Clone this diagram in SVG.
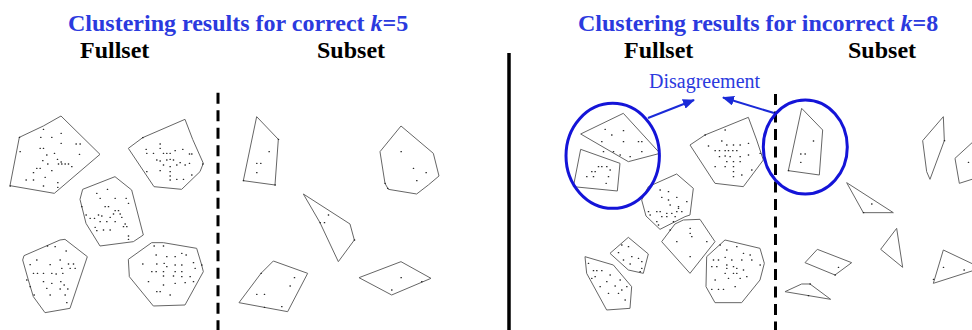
<svg xmlns="http://www.w3.org/2000/svg" width="972" height="330" viewBox="0 0 972 330">
<style>
.bg{fill:#fff}
.t{font-family:"Liberation Serif","Times New Roman",serif;font-weight:bold;font-size:24px}
.blue{fill:#2b3ade}
.blk{fill:#000}
.lbl{font-family:"Liberation Serif","Times New Roman",serif;font-size:20px;fill:#2b3ade}
.c{fill:none;stroke:#666;stroke-width:1;vector-effect:non-scaling-stroke;stroke-linejoin:round}
.d{fill:none;stroke:#222;stroke-width:4;stroke-linecap:round}
.dash{stroke:#000;stroke-width:3;stroke-dasharray:11 6.5}
.sep{stroke:#000;stroke-width:3.5}
.ring{fill:none;stroke:#1414d8;stroke-width:3}
.arr{stroke:#1a2ad8;stroke-width:2;fill:none}
</style>
<defs>
<marker id="ah" markerWidth="12" markerHeight="10" refX="11" refY="5" orient="auto" markerUnits="userSpaceOnUse">
<path d="M0 0 L12 5 L0 10 Z" fill="#1a2ad8"/>
</marker>
</defs>
<rect class="bg" x="0" y="0" width="972" height="330"/>

<g id="titles">
<text class="t blue" x="68" y="31">Clustering results for correct <tspan font-style="italic">k</tspan>=5</text>
<text class="t blue" x="578" y="31">Clustering results for incorrect <tspan font-style="italic">k</tspan>=8</text>
<text class="t blk" x="80" y="58">Fullset</text>
<text class="t blk" x="317" y="58">Subset</text>
<text class="t blk" x="624" y="58">Fullset</text>
<text class="t blk" x="848" y="58">Subset</text>
<text class="lbl" x="649" y="88">Disagreement</text>
</g>

<g id="dividers">
<line class="dash" x1="218" y1="92.7" x2="218" y2="330"/>
<line class="sep" x1="509" y1="53" x2="509" y2="330"/>
<line class="dash" x1="775.5" y1="94" x2="775.5" y2="330"/>
</g>

<g id="left-fullset" transform="translate(0,100) scale(0.33333)">
<polygon class="c" points="58,112 130,78 183,48 300,163 163,280 30,257"/>
<polygon class="c" points="385,145 428,113 555,58 578,118 610,190 600,215 545,268 462,260"/>
<polygon class="c" points="248,268 345,230 395,270 430,405 400,425 300,438 258,370 240,298"/>
<polygon class="c" points="72,467 180,420 195,418 262,470 210,625 135,638 100,590 85,540 68,480"/>
<polygon class="c" points="385,478 455,428 490,428 590,445 605,495 610,515 555,615 460,618 388,530"/>
<path class="d" d="M130 88h1M155 112h1M183 100h1M122 112h1M183 130h1M228 132h1M240 132h1M120 145h1M130 145h1M163 160h1M238 163h1M140 165h1M128 182h1M172 178h1M183 186h1M195 192h1M205 192h1M175 192h1M185 192h1M143 192h1M110 205h1M120 205h1M155 212h1M100 218h1M78 240h1M100 240h1M135 232h1M130 258h1M173 248h1M173 262h1M215 200h1M60 155h1M30 258h1M58 112h1"/>
<path class="d" d="M438 148h1M480 132h1M480 145h1M440 160h1M460 160h1M490 160h1M500 160h1M510 160h1M525 152h1M548 148h1M568 162h1M575 162h1M470 180h1M480 183h1M500 180h1M510 178h1M520 180h1M540 188h1M568 190h1M490 195h1M510 200h1M530 195h1M555 195h1M440 215h1M480 212h1M510 215h1M510 228h1M510 240h1M530 238h1M550 238h1M575 225h1M608 192h1M428 113h1"/>
<path class="d" d="M290 280h1M322 268h1M300 295h1M345 295h1M378 295h1M385 310h1M315 320h1M325 320h1M345 332h1M355 332h1M340 342h1M360 342h1M295 345h1M270 355h1M283 355h1M305 348h1M330 352h1M365 352h1M300 365h1M320 365h1M345 365h1M375 372h1M380 380h1M285 382h1M290 392h1M310 390h1M330 390h1M370 380h1M385 408h1M385 418h1M258 345h1M245 320h1"/>
<path class="d" d="M142 438h1M165 440h1M198 453h1M110 480h1M180 480h1M90 494h1M150 494h1M205 492h1M220 492h1M100 520h1M112 520h1M130 520h1M155 520h1M185 505h1M210 505h1M225 505h1M168 522h1M188 520h1M130 545h1M155 550h1M182 545h1M192 555h1M140 565h1M180 567h1M203 567h1M150 585h1M195 585h1M200 608h1M80 540h1M90 560h1M102 585h1"/>
<path class="d" d="M462 438h1M490 438h1M545 460h1M468 465h1M500 470h1M525 470h1M558 465h1M428 492h1M470 492h1M492 490h1M500 500h1M525 495h1M545 495h1M580 488h1M455 515h1M468 515h1M490 515h1M525 515h1M545 515h1M490 528h1M520 528h1M545 530h1M570 530h1M585 505h1M445 545h1M490 555h1M525 550h1M555 548h1M580 545h1M470 575h1M480 575h1M510 585h1M605 495h1"/>
</g>

<g id="left-subset" transform="translate(215,100) scale(0.33333)">
<polygon class="c" points="125,50 190,118 180,255 85,242"/>
<polygon class="c" points="558,78 655,160 672,228 640,255 605,282 520,268 510,250 495,155"/>
<polygon class="c" points="265,282 405,372 418,420 370,485 315,368"/>
<polygon class="c" points="175,483 278,520 218,635 72,608 138,520"/>
<polygon class="c" points="432,533 558,485 648,535 530,585"/>
<path class="d" d="M162 155h1M125 190h1M137 190h1M125 218h1M85 242h1M180 255h1M190 118h1M558 155h1M595 205h1M633 218h1M605 242h1M518 265h1M510 250h1M340 345h1M328 368h1M315 368h1M418 420h1M238 533h1M225 558h1M125 583h1M148 583h1M200 620h1M148 622h1M138 520h1M558 533h1M530 570h1M620 545h1"/>
</g>

<g id="right-fullset" transform="translate(560,60) scale(0.33333)">
<polygon class="c" points="62,222 190,160 300,280 205,305"/>
<polygon class="c" points="62,268 180,310 172,393 40,380"/>
<polygon class="c" points="390,255 435,225 565,172 590,240 610,300 550,380 465,370"/>
<polygon class="c" points="265,380 350,342 400,385 390,465 375,470 300,508 258,468 245,420"/>
<polygon class="c" points="305,545 345,492 370,480 420,478 465,545 390,640"/>
<polygon class="c" points="440,590 495,540 600,565 613,610 600,660 545,728 465,728 438,680"/>
<polygon class="c" points="150,580 205,532 265,582 250,640 205,630"/>
<polygon class="c" points="75,590 160,615 215,680 210,745 140,750 80,640"/>
<path class="d" d="M135 208h1M155 225h1M190 212h1M125 245h1M190 245h1M235 245h1M245 245h1M130 275h1M160 275h1M210 290h1M245 275h1M180 285h1M115 320h1M125 320h1M140 320h1M95 335h1M105 335h1M150 330h1M100 350h1M145 350h1M80 350h1M138 370h1"/>
<path class="d" d="M435 225h1M495 210h1M485 243h1M445 258h1M500 255h1M520 255h1M540 255h1M565 250h1M465 272h1M478 272h1M495 272h1M505 272h1M518 272h1M530 272h1M478 290h1M495 288h1M510 290h1M540 290h1M565 285h1M500 305h1M520 305h1M540 305h1M465 320h1M495 320h1M520 320h1M520 335h1M520 350h1M545 345h1M575 330h1M600 280h1"/>
<path class="d" d="M300 390h1M325 395h1M305 412h1M325 420h1M350 412h1M330 435h1M355 440h1M380 425h1M290 455h1M300 455h1M320 460h1M335 460h1M350 455h1M365 455h1M270 465h1M305 470h1M320 470h1M345 470h1M290 485h1M295 495h1M340 485h1M265 455h1M355 445h1"/>
<path class="d" d="M390 505h1M390 520h1M395 530h1M350 545h1M330 510h1M390 590h1M440 545h1"/>
<path class="d" d="M480 555h1M500 570h1M530 560h1M550 580h1M570 585h1M460 600h1M475 600h1M495 592h1M515 600h1M545 600h1M575 600h1M455 620h1M470 620h1M500 615h1M500 625h1M520 620h1M530 625h1M495 640h1M520 640h1M530 640h1M550 630h1M465 660h1M505 655h1M540 655h1M455 688h1M475 688h1M490 688h1M525 680h1M560 650h1M600 615h1"/>
<path class="d" d="M185 555h1M205 560h1M175 578h1M215 590h1M235 595h1M190 600h1M245 605h1M210 612h1M240 635h1M245 625h1"/>
<path class="d" d="M85 610h1M100 632h1M110 632h1M125 632h1M95 655h1M150 645h1M180 660h1M140 665h1M120 680h1M165 678h1M185 690h1M200 680h1M145 700h1M175 700h1M195 720h1M105 650h1"/>
</g>

<g id="right-subset" transform="translate(760,60) scale(0.33333)">
<polygon class="c" points="125,145 188,210 178,345 85,332"/>
<polygon class="c" points="550,170 553,242 510,358 500,335 488,242"/>
<polygon class="c" points="585,295 645,240 645,355 598,370"/>
<polygon class="c" points="260,368 400,458 310,458"/>
<polygon class="c" points="410,505 428,622 362,568"/>
<polygon class="c" points="172,568 275,608 225,645 135,608"/>
<polygon class="c" points="75,695 125,672 150,672 212,718"/>
<polygon class="c" points="550,570 645,615 645,630 520,670"/>
<path class="d" d="M160 243h1M122 282h1M135 282h1M122 307h1M85 332h1M553 242h1M625 307h1M335 432h1M310 458h1M235 622h1M225 645h1M150 672h1M145 707h1M550 622h1M612 630h1M520 658h1"/>
</g>

<g id="highlights">
<ellipse class="ring" cx="612.7" cy="155.8" rx="46.7" ry="52.5"/>
<ellipse class="ring" cx="805.3" cy="147" rx="42" ry="47"/>
</g>

<g id="connectors">
<line class="arr" x1="648" y1="118" x2="694" y2="100" marker-end="url(#ah)"/>
<line class="arr" x1="774" y1="113" x2="723" y2="97.5" marker-end="url(#ah)"/>
</g>
</svg>
